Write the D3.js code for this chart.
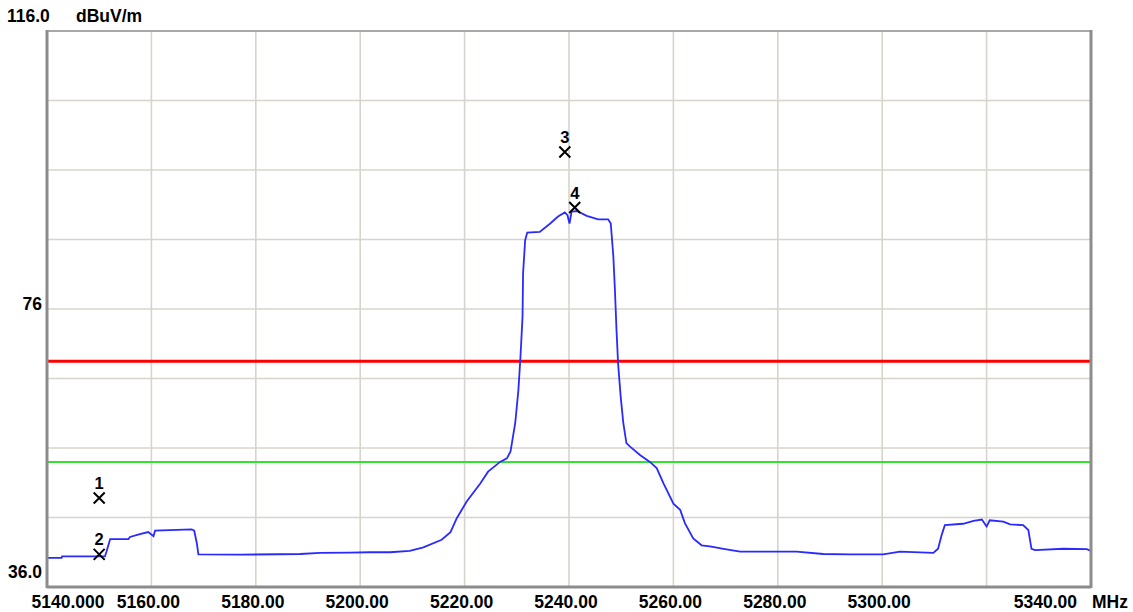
<!DOCTYPE html>
<html><head><meta charset="utf-8">
<script src="https://cdn.jsdelivr.net/npm/d3@7"></script>
<style>body{margin:0;background:#fff;}svg{display:block;}text{font-family:"Liberation Sans",Arial,sans-serif;font-weight:bold;fill:#000;}</style>
</head><body>
<svg id="c" width="1133" height="612"></svg>
<script>
// Trace (frequency MHz, level dBuV/m)
const freqs = [5140.0,5142.8,5142.9,5151.1,5151.4,5152.1,5155.6,5155.9,5157.8,5159.4,5160.4,5160.7,5167.7,5168.2,5168.7,5169.0,5177.0,5188.5,5192.3,5198.0,5201.9,5205.7,5209.5,5212.1,5215.6,5217.3,5218.5,5220.4,5223.0,5224.5,5226.8,5228.1,5228.8,5229.7,5230.3,5230.7,5231.1,5231.2,5231.6,5232.0,5234.4,5236.4,5237.9,5239.2,5239.7,5240.1,5240.5,5241.5,5243.4,5245.6,5247.5,5248.0,5248.5,5248.8,5249.1,5249.4,5249.9,5250.4,5251.0,5251.7,5253.6,5255.5,5256.8,5258.1,5260.0,5261.3,5262.2,5263.8,5265.4,5267.3,5269.6,5272.8,5283.6,5288.7,5293.8,5300.2,5303.4,5309.8,5310.7,5311.4,5312.0,5315.5,5317.5,5319.1,5320.0,5320.6,5323.2,5324.5,5327.0,5328.0,5328.6,5329.3,5334.7,5339.2,5340.0];
const levels = [40.2,40.2,40.4,40.4,41.1,42.9,42.9,43.2,43.6,43.9,43.3,44.1,44.3,44.1,42.3,40.7,40.65,40.75,40.9,40.95,41.0,41.0,41.2,41.7,42.8,43.9,45.9,48.3,50.9,52.6,54.0,54.5,55.5,59.6,64.3,69.1,74.9,81.1,85.9,87.0,87.1,88.3,89.3,89.9,89.5,88.3,90.0,90.1,89.4,88.9,88.9,88.3,83.5,78.7,73.0,68.2,63.4,59.6,56.7,56.2,55.0,54.0,53.1,50.9,48.0,47.1,45.2,43.0,42.0,41.8,41.5,41.1,41.1,40.75,40.7,40.7,41.1,40.9,41.5,43.5,44.9,45.1,45.5,45.7,44.7,45.6,45.4,45.0,44.9,44.2,41.5,41.3,41.5,41.45,41.2];
// Limit lines
const limitRed = 68.5;
const limitGreen = 54.0;
// Markers
const markerIds = ["1","2","3","4"];
const markerFreqs = [5150.0,5150.0,5239.2,5241.1];
const markerLevels = [48.8,40.7,98.6,90.6];
// Axes
const xTicks = [5140,5160,5180,5200,5220,5240,5260,5280,5300,5320,5340];
const xLabelTicks = [5140,5160,5180,5200,5220,5240,5260,5280,5300,5340];
const xLabelTexts = ["5140.000","5160.00","5180.00","5200.00","5220.00","5240.00","5260.00","5280.00","5300.00","5340.00"];
const yTicks = [36,46,56,66,76,86,96,106,116];
const yLabelTicks = [76,36];
const yLabelTexts = ["76","36.0"];
const topLabel = "116.0";
const unitY = "dBuV/m";
const unitX = "MHz";

const svg = d3.select("#c");
const L=47,R=1091,T=31,B=587;
const x = d3.scaleLinear().domain([5140,5340]).range([L,R]);
const y = d3.scaleLinear().domain([36,116]).range([B,T]);

// grid
const g = svg.append("g");
g.selectAll(".vg").data(xTicks.slice(1,-1)).enter().append("line")
  .attr("x1",d=>x(d)).attr("x2",d=>x(d)).attr("y1",T).attr("y2",B)
  .attr("stroke","#d8d4cc").attr("stroke-width",1.6);
g.selectAll(".hg").data(yTicks.slice(1,-1)).enter().append("line")
  .attr("y1",d=>y(d)).attr("y2",d=>y(d)).attr("x1",L).attr("x2",R)
  .attr("stroke","#d8d4cc").attr("stroke-width",1.6);

// limit lines
svg.append("line").attr("x1",L).attr("x2",R).attr("y1",y(limitGreen)).attr("y2",y(limitGreen))
  .attr("stroke","#33e033").attr("stroke-width",2);
svg.append("line").attr("x1",L).attr("x2",R).attr("y1",y(limitRed)).attr("y2",y(limitRed))
  .attr("stroke","#ff0000").attr("stroke-width",3);

// trace
const data = freqs.map((f,i)=>[f,levels[i]]);
svg.append("path").datum(data)
  .attr("d", d3.line().x(d=>x(d[0])).y(d=>y(d[1])))
  .attr("fill","none").attr("stroke","#2a2aff").attr("stroke-width",1.8);

// frame
svg.append("line").attr("x1",L).attr("x2",R).attr("y1",T).attr("y2",T).attr("stroke","#a8a8a8").attr("stroke-width",2);
svg.append("line").attr("x1",L).attr("x2",L).attr("y1",T-1).attr("y2",B+1).attr("stroke","#8c8c8c").attr("stroke-width",3);
svg.append("line").attr("x1",R).attr("x2",R).attr("y1",T-1).attr("y2",B+1).attr("stroke","#8c8c8c").attr("stroke-width",3);
svg.append("line").attr("x1",L).attr("x2",R).attr("y1",B).attr("y2",B).attr("stroke","#8c8c8c").attr("stroke-width",3);

// markers
const mk = svg.selectAll(".mk").data(markerIds).enter().append("g")
  .attr("transform",(d,i)=>`translate(${x(markerFreqs[i])},${y(markerLevels[i])})`);
mk.append("path").attr("d","M-5.5,-5.5L5.5,5.5M-5.5,5.5L5.5,-5.5").attr("stroke","#000").attr("stroke-width",2);
mk.append("text").attr("y",-9).attr("text-anchor","middle").style("font-size","16.5px").text(d=>d);

// x labels
const fs = "17.5px";
svg.selectAll(".xl").data(xLabelTicks).enter().append("text")
  .attr("x",(d,i)=> i===0 ? x(d)+21 : (i===xLabelTicks.length-1 ? x(d)-14 : x(d)-3))
  .attr("y",608)
  .attr("text-anchor",(d,i)=> i===xLabelTicks.length-1 ? "end" : "middle")
  .style("font-size",fs).text((d,i)=>xLabelTexts[i]);
svg.append("text").attr("x",1092).attr("y",608).style("font-size",fs).text(unitX);

// y labels
svg.selectAll(".yl").data(yLabelTicks).enter().append("text")
  .attr("x",42).attr("y",(d,i)=> i===0 ? y(d)+1 : y(d)-9)
  .attr("text-anchor","end").style("font-size",fs).text((d,i)=>yLabelTexts[i]);
svg.append("text").attr("x",7).attr("y",22).style("font-size",fs).text(topLabel);
svg.append("text").attr("x",76).attr("y",22).style("font-size",fs).text(unitY);
</script>
</body></html>
